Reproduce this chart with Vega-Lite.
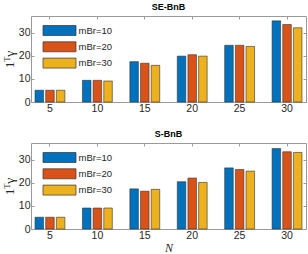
{
  "$schema": "https://vega.github.io/schema/vega-lite/v6.json",
  "padding": {"left": 1, "top": 2, "right": 1, "bottom": 0},
  "spacing": 41,
  "bounds": "flush",
  "background": "white",
  "datasets": {
    "d": [
      {"panel": "SE-BnB", "N": 5, "mBr": "mBr=10", "v": 5.1},
      {"panel": "SE-BnB", "N": 5, "mBr": "mBr=20", "v": 5.1},
      {"panel": "SE-BnB", "N": 5, "mBr": "mBr=30", "v": 5.1},
      {"panel": "SE-BnB", "N": 10, "mBr": "mBr=10", "v": 9.4},
      {"panel": "SE-BnB", "N": 10, "mBr": "mBr=20", "v": 9.4},
      {"panel": "SE-BnB", "N": 10, "mBr": "mBr=30", "v": 9.1},
      {"panel": "SE-BnB", "N": 15, "mBr": "mBr=10", "v": 17.5},
      {"panel": "SE-BnB", "N": 15, "mBr": "mBr=20", "v": 16.8},
      {"panel": "SE-BnB", "N": 15, "mBr": "mBr=30", "v": 15.9},
      {"panel": "SE-BnB", "N": 20, "mBr": "mBr=10", "v": 19.9},
      {"panel": "SE-BnB", "N": 20, "mBr": "mBr=20", "v": 20.5},
      {"panel": "SE-BnB", "N": 20, "mBr": "mBr=30", "v": 19.9},
      {"panel": "SE-BnB", "N": 25, "mBr": "mBr=10", "v": 24.6},
      {"panel": "SE-BnB", "N": 25, "mBr": "mBr=20", "v": 24.6},
      {"panel": "SE-BnB", "N": 25, "mBr": "mBr=30", "v": 24.1},
      {"panel": "SE-BnB", "N": 30, "mBr": "mBr=10", "v": 35.2},
      {"panel": "SE-BnB", "N": 30, "mBr": "mBr=20", "v": 33.6},
      {"panel": "SE-BnB", "N": 30, "mBr": "mBr=30", "v": 32.2},
      {"panel": "S-BnB", "N": 5, "mBr": "mBr=10", "v": 5.1},
      {"panel": "S-BnB", "N": 5, "mBr": "mBr=20", "v": 5.1},
      {"panel": "S-BnB", "N": 5, "mBr": "mBr=30", "v": 5.1},
      {"panel": "S-BnB", "N": 10, "mBr": "mBr=10", "v": 9.1},
      {"panel": "S-BnB", "N": 10, "mBr": "mBr=20", "v": 9.1},
      {"panel": "S-BnB", "N": 10, "mBr": "mBr=30", "v": 9.1},
      {"panel": "S-BnB", "N": 15, "mBr": "mBr=10", "v": 17.4},
      {"panel": "S-BnB", "N": 15, "mBr": "mBr=20", "v": 16.4},
      {"panel": "S-BnB", "N": 15, "mBr": "mBr=30", "v": 17.2},
      {"panel": "S-BnB", "N": 20, "mBr": "mBr=10", "v": 20.5},
      {"panel": "S-BnB", "N": 20, "mBr": "mBr=20", "v": 22.1},
      {"panel": "S-BnB", "N": 20, "mBr": "mBr=30", "v": 20.2},
      {"panel": "S-BnB", "N": 25, "mBr": "mBr=10", "v": 26.5},
      {"panel": "S-BnB", "N": 25, "mBr": "mBr=20", "v": 25.8},
      {"panel": "S-BnB", "N": 25, "mBr": "mBr=30", "v": 25.1},
      {"panel": "S-BnB", "N": 30, "mBr": "mBr=10", "v": 34.9},
      {"panel": "S-BnB", "N": 30, "mBr": "mBr=20", "v": 33.5},
      {"panel": "S-BnB", "N": 30, "mBr": "mBr=30", "v": 33.2}
    ]
  },
  "config": {
    "view": {"stroke": "#9a9a9a", "strokeWidth": 1},
    "axis": {
      "domain": false,
      "grid": false,
      "labelFont": "Liberation Sans",
      "labelFontSize": 10.5,
      "labelColor": "#262626",
      "tickColor": "#9a9a9a",
      "tickSize": -3,
      "labelPadding": 4
    },
    "legend": {
      "orient": "none",
      "legendX": 23,
      "legendY": 9,
      "padding": 0,
      "symbolType": "M-3.3,-1H3.3V1H-3.3Z",
      "symbolSize": 100,
      "symbolStrokeColor": "#333333",
      "symbolStrokeWidth": 0.7,
      "symbolOpacity": 1,
      "labelFont": "Liberation Sans",
      "labelFontSize": 9.5,
      "labelColor": "#262626",
      "labelOffset": 13.5,
      "rowPadding": 3.3
    },
    "title": {"font": "Liberation Sans", "fontSize": 9, "fontWeight": "bold", "color": "#000000", "offset": 0}
  },
  "resolve": {"scale": {"color": "independent"}, "legend": {"color": "independent"}},
  "vconcat": [
    {
      "title": "SE-BnB",
      "width": 275,
      "height": 86,
      "data": {"name": "d"},
      "transform": [{"filter": "datum.panel === 'SE-BnB'"}],
      "layer": [
        {
          "mark": {"type": "bar", "stroke": "#333333", "strokeWidth": 0.6},
          "encoding": {
            "x": {"field": "N", "type": "ordinal", "scale": {"paddingInner": 0.37, "paddingOuter": 0.085}, "axis": {"labelAngle": 0, "title": null}},
            "xOffset": {"field": "mBr", "type": "nominal", "scale": {"paddingInner": 0.2, "paddingOuter": 0}},
            "y": {"field": "v", "type": "quantitative", "scale": {"domain": [0, 37.3], "nice": false}, "axis": {"values": [0, 10, 20, 30], "title": "1ᵀγ", "titleFont": "Liberation Serif", "titleFontSize": 13.5, "titleFontWeight": "normal", "titleColor": "#262626", "titlePadding": 2}},
            "color": {"field": "mBr", "type": "nominal", "scale": {"range": ["#0072BD", "#D95319", "#EDB120"]}, "legend": {"title": null}}
          }
        },
        {
          "mark": {"type": "bar", "opacity": 0},
          "encoding": {
            "x": {"field": "N", "type": "ordinal", "axis": {"orient": "top", "labels": false, "title": null}},
            "xOffset": {"field": "mBr", "type": "nominal"},
            "y": {"field": "v", "type": "quantitative", "axis": {"orient": "right", "labels": false, "title": null, "values": [0, 10, 20, 30]}}
          }
        }
      ],
      "resolve": {"axis": {"x": "independent", "y": "independent"}}
    },
    {
      "title": "S-BnB",
      "width": 275,
      "height": 86,
      "data": {"name": "d"},
      "transform": [{"filter": "datum.panel === 'S-BnB'"}],
      "layer": [
        {
          "mark": {"type": "bar", "stroke": "#333333", "strokeWidth": 0.6},
          "encoding": {
            "x": {"field": "N", "type": "ordinal", "scale": {"paddingInner": 0.37, "paddingOuter": 0.085}, "axis": {"labelAngle": 0, "title": "N", "titleFont": "Liberation Serif", "titleFontStyle": "italic", "titleFontSize": 12, "titleFontWeight": "normal", "titleColor": "#262626", "titlePadding": 2}},
            "xOffset": {"field": "mBr", "type": "nominal", "scale": {"paddingInner": 0.2, "paddingOuter": 0}},
            "y": {"field": "v", "type": "quantitative", "scale": {"domain": [0, 37.3], "nice": false}, "axis": {"values": [0, 10, 20, 30], "title": "1ᵀγ", "titleFont": "Liberation Serif", "titleFontSize": 13.5, "titleFontWeight": "normal", "titleColor": "#262626", "titlePadding": 2}},
            "color": {"field": "mBr", "type": "nominal", "scale": {"range": ["#0072BD", "#D95319", "#EDB120"]}, "legend": {"title": null}}
          }
        },
        {
          "mark": {"type": "bar", "opacity": 0},
          "encoding": {
            "x": {"field": "N", "type": "ordinal", "axis": {"orient": "top", "labels": false, "title": null}},
            "xOffset": {"field": "mBr", "type": "nominal"},
            "y": {"field": "v", "type": "quantitative", "axis": {"orient": "right", "labels": false, "title": null, "values": [0, 10, 20, 30]}}
          }
        }
      ],
      "resolve": {"axis": {"x": "independent", "y": "independent"}}
    }
  ]
}
